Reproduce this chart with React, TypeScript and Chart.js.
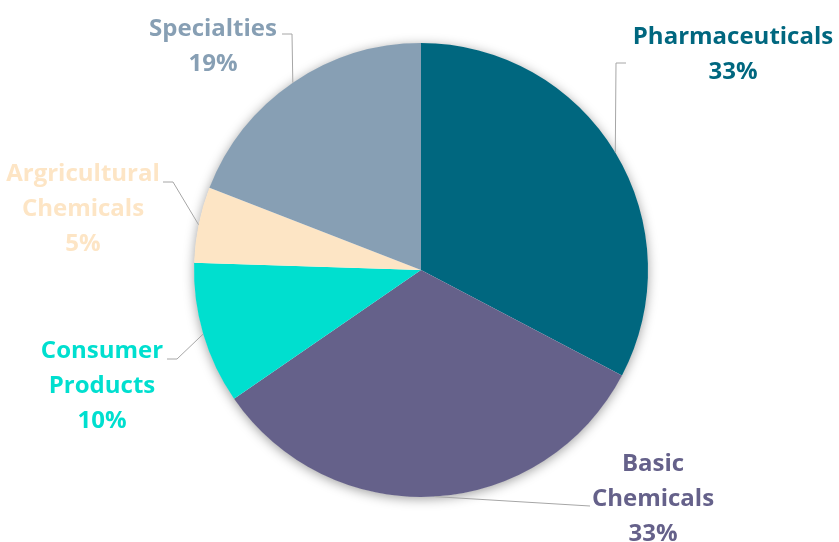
import React, { useEffect, useRef } from 'react';
import { Chart, registerables } from 'chart.js';

Chart.register(...registerables);

// ---- data ----
const categories: string[][] = [
  ['Pharmaceuticals'],
  ['Basic', 'Chemicals'],
  ['Consumer', 'Products'],
  ['Argricultural', 'Chemicals'],
  ['Specialties'],
];
const values: number[] = [32.7, 32.7, 10.1, 5.4, 19.1];
const colors: string[] = ['#00677F', '#65618A', '#00DFCF', '#FDE5C5', '#879FB4'];

// ---- label layout (pixel offsets from the pie centre) ----
// x,y: centre of the text block; lx,ly: leader end next to label; elbow: horizontal elbow length
const labelLayout = [
  { x: 312, y: -215.5, lx: 205, ly: -207, elbow: -10 },
  { x: 232, y: 229, lx: 169, ly: 236, elbow: 0 },
  { x: -319, y: 116, lx: -254, ly: 89, elbow: 10 },
  { x: -338, y: -61, lx: -258, ly: -88, elbow: 10 },
  { x: -208, y: -223.5, lx: -139, ly: -236, elbow: 10 },
];

const FONT = 'bold 24px "Open Sans", Lato, sans-serif';
const LINE_H = 35;

const shadowPlugin = {
  id: 'pieShadow',
  beforeDatasetsDraw(chart: any) {
    const meta = chart.getDatasetMeta(0);
    const arc = meta.data[0];
    if (!arc) return;
    const { x, y, outerRadius } = arc.getProps(['x', 'y', 'outerRadius'], true);
    const ctx = chart.ctx;
    ctx.save();
    ctx.shadowColor = 'rgba(0,0,0,0.4)';
    ctx.shadowBlur = 12;
    ctx.shadowOffsetX = 0;
    ctx.shadowOffsetY = 2;
    ctx.fillStyle = '#ffffff';
    ctx.beginPath();
    ctx.arc(x, y, outerRadius - 0.5, 0, Math.PI * 2);
    ctx.fill();
    ctx.restore();
  },
};

const labelPlugin = {
  id: 'pieLabels',
  afterDatasetsDraw(chart: any) {
    const meta = chart.getDatasetMeta(0);
    const ctx = chart.ctx;
    const data: number[] = chart.data.datasets[0].data;
    const total = data.reduce((a, b) => a + b, 0);
    meta.data.forEach((arc: any, i: number) => {
      const { x, y, startAngle, endAngle, outerRadius } = arc.getProps(
        ['x', 'y', 'startAngle', 'endAngle', 'outerRadius'],
        true
      );
      const L = labelLayout[i];
      const mid = (startAngle + endAngle) / 2;
      const px = x + Math.cos(mid) * outerRadius;
      const py = y + Math.sin(mid) * outerRadius;
      ctx.save();
      ctx.strokeStyle = '#A6A6A6';
      ctx.lineWidth = 1;
      ctx.beginPath();
      ctx.moveTo(px, py);
      ctx.lineTo(x + L.lx + L.elbow, y + L.ly);
      ctx.lineTo(x + L.lx, y + L.ly);
      ctx.stroke();

      const lines = [...categories[i], Math.round((data[i] / total) * 100) + '%'];
      ctx.font = FONT;
      ctx.fillStyle = colors[i];
      ctx.textAlign = 'center';
      ctx.textBaseline = 'middle';
      const n = lines.length;
      lines.forEach((t, j) => {
        ctx.fillText(t, x + L.x, y + L.y + (j - (n - 1) / 2) * LINE_H);
      });
      ctx.restore();
    });
  },
};

export default function App() {
  const ref = useRef<HTMLCanvasElement | null>(null);
  useEffect(() => {
    if (!ref.current) return;
    const chart = new Chart(ref.current, {
      type: 'pie',
      data: {
        labels: categories.map((c) => c.join(' ')),
        datasets: [
          {
            data: values,
            backgroundColor: colors,
            borderWidth: 0,
          },
        ],
      },
      options: {
        animation: false,
        responsive: false,
        maintainAspectRatio: false,
        layout: { padding: { top: 43, bottom: 45, left: 100, right: 97 } },
        plugins: {
          legend: { display: false },
          tooltip: { enabled: false },
        },
      },
      plugins: [shadowPlugin, labelPlugin],
    });
    return () => chart.destroy();
  }, []);
  return (
    <div style={{ position: 'fixed', left: 0, top: 0, width: 839, height: 542, background: '#fff' }}>
      <canvas ref={ref} width={839} height={542} style={{ width: 839, height: 542, display: 'block' }} />
    </div>
  );
}
